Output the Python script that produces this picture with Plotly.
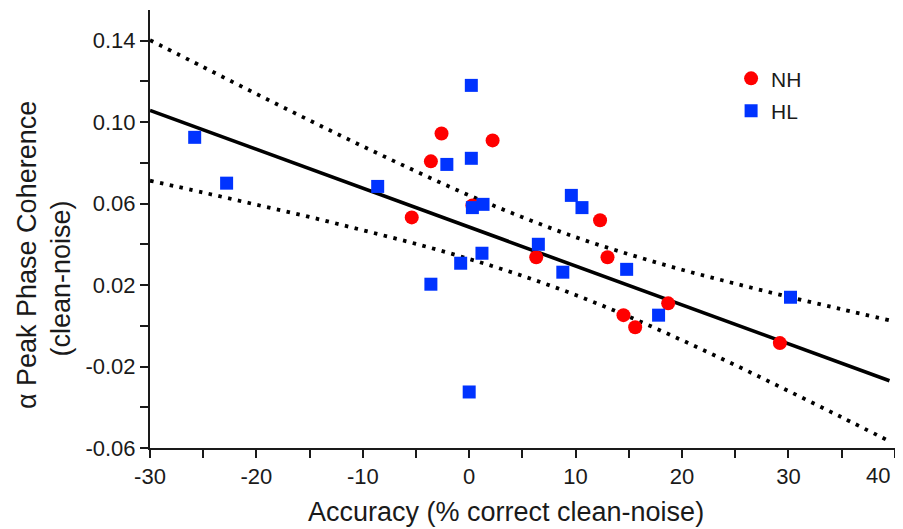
import plotly.graph_objects as go

# NH group (red circles)
nh_x = [-2.6, 2.2, -3.6, 0.3, -5.4, 6.3, 12.3, 13.0, 14.5, 15.6, 18.7, 29.2]
nh_y = [0.0944, 0.091, 0.0807, 0.059, 0.0532, 0.0336, 0.0518, 0.0336, 0.0052, -0.0007, 0.011, -0.0085]

# HL group (blue squares)
hl_x = [-25.8, -22.8, -8.6, 0.2, -2.1, 0.2, 0.3, 1.3, 1.2, -0.8, -3.6, 0.0, 6.5, 9.6, 10.6, 8.8, 14.8, 17.8, 30.2]
hl_y = [0.0925, 0.070, 0.0684, 0.118, 0.0792, 0.0822, 0.058, 0.0596, 0.0356, 0.0307, 0.0204, -0.0325, 0.040, 0.064, 0.058, 0.0263, 0.0277, 0.0052, 0.014]

# regression fit endpoints
fit_x = [-30, 39.5]
fit_y = [0.1057, -0.0270]

# confidence band
band_x = [-30, -25, -20, -15, -10, -5, 0, 5, 10, 15, 20, 25, 30, 35, 39.5]
band_upper = [0.1402, 0.1270, 0.1138, 0.1008, 0.0881, 0.0758, 0.0640, 0.0533, 0.0435, 0.0351, 0.0275, 0.0207, 0.0142, 0.0081, 0.0027]
band_lower = [0.0712, 0.0654, 0.0594, 0.0534, 0.0469, 0.0402, 0.0328, 0.0245, 0.0151, 0.0045, -0.0071, -0.0193, -0.0320, -0.0449, -0.0567]

# tick labels (the last x label, at the right edge, is placed as an annotation so it is not clipped)
x_tickvals = [-30, -20, -10, 0, 10, 20, 30]
x_ticktext = ["-30", "-20", "-10", "0", "10", "20", "30"]
x_last_label = "40"
y_tickvals = [-0.06, -0.02, 0.02, 0.06, 0.10, 0.14]
y_ticktext = ["-0.06", "-0.02", "0.02", "0.06", "0.10", "0.14"]

x_title = "Accuracy (% correct clean-noise)"
y_title_1 = "α Peak Phase Coherence"
y_title_2 = "(clean-noise)"

FONT = "Arial, Liberation Sans, sans-serif"
INK = "#1a1a1a"

fig = go.Figure()
dotted = dict(color="black", width=3.8, dash="3.5px,6.5px", shape="spline")
fig.add_trace(go.Scatter(x=band_x, y=band_upper, mode="lines", line=dotted, showlegend=False, hoverinfo="skip"))
fig.add_trace(go.Scatter(x=band_x, y=band_lower, mode="lines", line=dotted, showlegend=False, hoverinfo="skip"))
fig.add_trace(go.Scatter(x=fit_x, y=fit_y, mode="lines", line=dict(color="black", width=3.6), showlegend=False, hoverinfo="skip"))

fig.add_trace(go.Scatter(x=nh_x, y=nh_y, mode="markers", name="NH", legendgroup="a",
                         marker=dict(symbol="circle", size=14, color="#ff0000", line=dict(width=0))))
fig.add_trace(go.Scatter(x=hl_x, y=hl_y, mode="markers", name="HL", legendgroup="b",
                         marker=dict(symbol="square", size=13, color="#0033ff", line=dict(width=0))))

axis_common = dict(showline=True, linecolor=INK, linewidth=2, ticks="outside", ticklen=8,
                   tickwidth=2, tickcolor=INK, showgrid=False, zeroline=False, automargin=False,
                   tickfont=dict(family=FONT, size=22, color=INK))

fig.update_xaxes(range=[-30, 40.02], tickmode="array", tickvals=x_tickvals, ticktext=x_ticktext,
                 minor=dict(tickmode="linear", tick0=0, dtick=5, ticks="outside", ticklen=8, tickwidth=2, tickcolor=INK),
                 **axis_common)
fig.update_yaxes(range=[-0.06, 0.155], tickmode="array", tickvals=y_tickvals, ticktext=y_ticktext,
                 minor=dict(tickmode="linear", tick0=0, dtick=0.02, ticks="outside", ticklen=8, tickwidth=2, tickcolor=INK),
                 **axis_common)

fig.add_annotation(text=x_last_label, xref="paper", yref="paper", x=0.996, y=-0.062,
                   xanchor="right", yanchor="middle", showarrow=False,
                   font=dict(family=FONT, size=22, color=INK))

title_font = dict(family=FONT, size=27, color=INK)
fig.add_annotation(text=x_title, xref="paper", yref="paper", x=0.478, y=-0.146,
                   xanchor="center", yanchor="middle", showarrow=False, font=title_font)
fig.add_annotation(text=y_title_1, xref="paper", yref="paper", x=-0.165, y=0.4406, textangle=-90,
                   xanchor="center", yanchor="middle", showarrow=False, font=title_font)
fig.add_annotation(text=y_title_2, xref="paper", yref="paper", x=-0.120, y=0.386, textangle=-90,
                   xanchor="center", yanchor="middle", showarrow=False, font=title_font)

# page body has an 8px margin: figure is sized/offset to compensate
fig.update_layout(
    width=895, height=521,
    margin=dict(l=142, r=8, t=2, b=81),
    plot_bgcolor="white", paper_bgcolor="white",
    legend=dict(x=0.780, y=0.89, xanchor="left", yanchor="top", font=dict(family=FONT, size=21, color=INK),
                tracegroupgap=2, bgcolor="rgba(0,0,0,0)"),
)

fig.write_html("out.html")
